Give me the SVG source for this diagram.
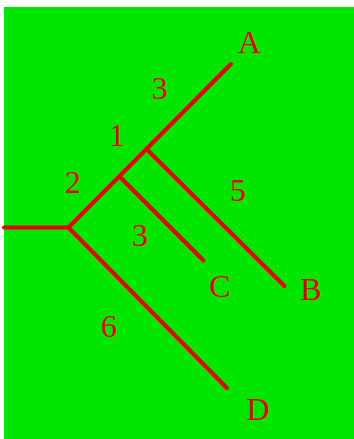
<svg xmlns="http://www.w3.org/2000/svg" width="354" height="439" viewBox="0 0 354 439">
<style>
.bg{fill:#00e600}
.ln{stroke:#e60000;stroke-width:4;fill:none;stroke-linecap:round;stroke-linejoin:round}
text{font-family:"Liberation Serif","Times New Roman",serif;font-size:32px;fill:#e60000;text-anchor:middle}
</style>
<rect class="bg" x="4" y="7" width="350" height="432"/>
<g id="connectors">
<path class="ln" d="M4,227.5 H68.5"/>
<path class="ln" d="M68.5,227.5 L231,64"/>
<path class="ln" d="M146.5,149 L284.5,286"/>
<path class="ln" d="M119.5,176.5 L203.5,260.5"/>
<path class="ln" d="M68.5,227.5 L227,388"/>
</g>
<g id="leafA"><text x="249.5" y="53">A</text></g>
<g id="leafB"><text x="311" y="300">B</text></g>
<g id="leafC"><text x="220" y="297">C</text></g>
<g id="leafD"><text x="258" y="420">D</text></g>
<g id="labels">
<text x="159.7" y="99">3</text>
<text x="117" y="146">1</text>
<text x="73" y="193">2</text>
<text x="238" y="201">5</text>
<text x="140" y="246">3</text>
<text x="109" y="337">6</text>
</g>
</svg>
